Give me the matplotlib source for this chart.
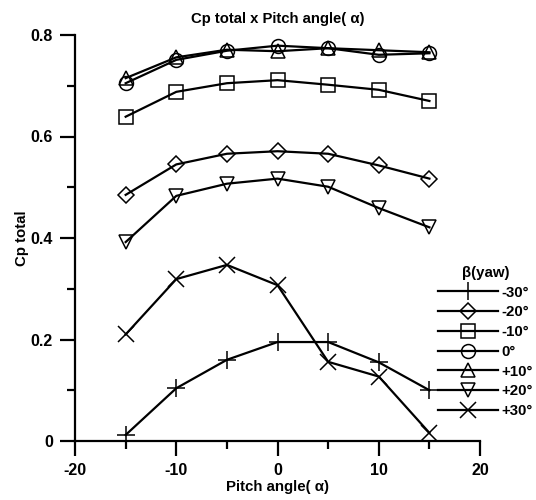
import numpy as np
import matplotlib.pyplot as plt
from matplotlib.ticker import MultipleLocator

plt.rcParams['font.family'] = ['Liberation Sans', 'DejaVu Sans']
plt.rcParams['font.weight'] = 'bold'
plt.rcParams['axes.unicode_minus'] = False

# pitch angle (deg) and total pressure coefficient per yaw angle
pitch = [-15, -10, -5, 0, 5, 10, 15]
cp_m30 = [0.012, 0.104, 0.160, 0.195, 0.195, 0.155, 0.100]
cp_m20 = [0.485, 0.545, 0.566, 0.571, 0.566, 0.543, 0.517]
cp_m10 = [0.639, 0.688, 0.705, 0.711, 0.702, 0.692, 0.670]
cp_0 = [0.705, 0.751, 0.769, 0.779, 0.774, 0.761, 0.764]
cp_p10 = [0.715, 0.756, 0.771, 0.768, 0.774, 0.770, 0.766]
cp_p20 = [0.392, 0.483, 0.507, 0.517, 0.501, 0.459, 0.421]
cp_p30 = [0.210, 0.319, 0.347, 0.307, 0.156, 0.127, 0.016]

yaw_labels = ['-30°', '-20°', '-10°', '0°', '+10°', '+20°', '+30°']
markers = ['+', 'D', 's', 'o', '^', 'v', 'x']
msizes = [13, 8, 10.5, 10, 10, 10, 11]
series = [cp_m30, cp_m20, cp_m10, cp_0, cp_p10, cp_p20, cp_p30]

fig = plt.figure(figsize=(5.36, 5.0), dpi=100)
ax = fig.add_axes([0.14, 0.118, 0.7556, 0.812])

for vals, lab, mk, ms in zip(series, yaw_labels, markers, msizes):
    ax.plot(pitch, vals, color='black', lw=1.6, marker=mk, ms=ms,
            mfc='none', mec='black', mew=1.1, label=lab, clip_on=False)

ax.set_xlim(-20, 20)
ax.set_ylim(0, 0.8)
ax.xaxis.set_major_locator(MultipleLocator(10))
ax.xaxis.set_minor_locator(MultipleLocator(5))
ax.yaxis.set_minor_locator(MultipleLocator(0.1))
ax.set_yticks([0, 0.2, 0.4, 0.6, 0.8])
ax.set_yticklabels(['0', '0.2', '0.4', '0.6', '0.8'])

for s in ['top', 'right']:
    ax.spines[s].set_visible(False)
for s in ['left', 'bottom']:
    ax.spines[s].set_linewidth(1.6)
ax.tick_params(which='major', length=11, width=1.6, labelsize=11.5, pad=5)
ax.tick_params(which='minor', length=6, width=1.6)

ax.set_title('Cp total x Pitch angle( α)', fontsize=10.7, fontweight='bold', pad=9)
ax.set_xlabel('Pitch angle( α)', fontsize=10.8, fontweight='bold', labelpad=1)
ax.set_ylabel('Cp total', fontsize=10.8, fontweight='bold', labelpad=1)

leg = ax.legend(loc='upper left', bbox_to_anchor=(438 / 536, 1 - 266 / 500),
                bbox_transform=fig.transFigure, frameon=False,
                title='β(yaw)', title_fontproperties={'weight': 'bold', 'size': 10.8},
                prop={'weight': 'bold', 'size': 10.8}, handlelength=4.0,
                labelspacing=0.38, borderpad=0, borderaxespad=0,
                handletextpad=0.25)

fig.savefig('out.png', dpi=100)
